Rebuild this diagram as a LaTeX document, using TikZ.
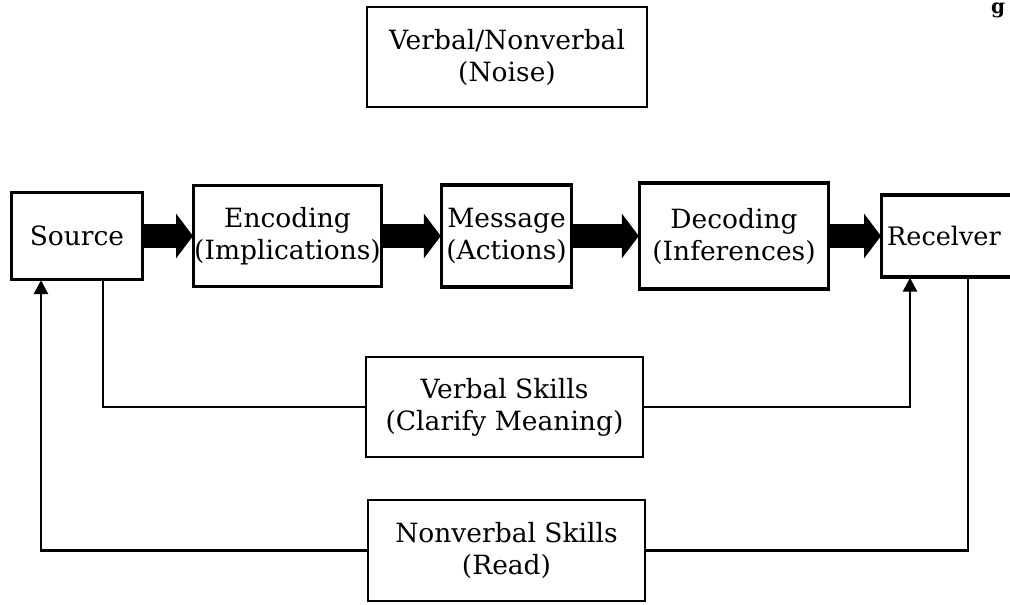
\documentclass[tikz,border=0pt]{standalone}
\usepackage{fontspec}
\setmainfont{DejaVu Serif}
\usetikzlibrary{arrows.meta}

\tikzset{
  box/.style={draw=black, line width=2.4pt, fill=white, inner sep=0pt,
              align=center, font=\fontsize{26.5}{32}\selectfont},
  link/.style={draw=black, line width=2.8pt},
  flow/.style={draw=black, line width=24pt,
               -{Triangle[length=17pt, width=44pt]}},
  back/.style={link, -{Triangle[length=14pt, width=14pt]}}
}

\begin{document}
\begin{tikzpicture}[x=1pt, y=-1pt]
  \useasboundingbox (0,0) rectangle (1010,605);
  \clip (0,0) rectangle (1010,605);

  % header fragment at the page edge
  \node[anchor=north, inner sep=0pt, font=\fontsize{20}{20}\selectfont\bfseries] (hdr) at (998,3) {g};

  % noise box
  \node[box, minimum width=280pt, minimum height=100pt] (noise) at (507,57)
       {Verbal/Nonverbal\\(Noise)};

  % main chain
  \node[box, minimum width=130pt, minimum height=86pt]  (src) at (77,236)  {Source};
  \node[box, minimum width=185pt, minimum height=100pt] (enc) at (287.5,236) {Encoding\\(Implications)};
  \node[box, minimum width=129pt, minimum height=101pt] (msg) at (506.5,236) {Message\\(Actions)};
  \node[box, minimum width=188pt, minimum height=105pt] (dec) at (734,236) {Decoding\\(Inferences)};
  \node[box, anchor=west, minimum width=200pt, minimum height=81pt,
        text width=190pt, align=left, inner xsep=5pt,
        font=\fontsize{25.5}{32}\selectfont] (rec) at (881,236) {Recelver};

  % feedback boxes
  \node[box, minimum width=277pt, minimum height=100pt] (verb) at (504.5,407) {Verbal Skills\\(Clarify Meaning)};
  \node[box, minimum width=277pt, minimum height=101pt] (nonv) at (506.5,550.5) {Nonverbal Skills\\(Read)};

  % block arrows of the chain
  \draw[flow] (src.east) -- (enc.west);
  \draw[flow] (enc.east) -- (msg.west);
  \draw[flow] (msg.east) -- (dec.west);
  \draw[flow] (dec.east) -- (rec.west);

  % redraw the box outlines over the arrow shafts
  \foreach \n in {src,enc,msg,dec,rec}
    \draw[line width=2.4pt] (\n.north west) rectangle (\n.south east);

  % column positions of the feedback lines
  \coordinate (lx) at (41,0);
  \coordinate (vx) at (103,0);
  \coordinate (ax) at (910,0);
  \coordinate (rx) at (968,0);

  % verbal loop
  \draw[link] (src.south -| vx) |- (verb.west);
  \draw[back] (verb.east) -| (rec.south -| ax);

  % nonverbal loop
  \draw[link] (rec.south -| rx) |- (nonv.east);
  \draw[back] (nonv.west) -| (src.south -| lx);
\end{tikzpicture}
\end{document}
